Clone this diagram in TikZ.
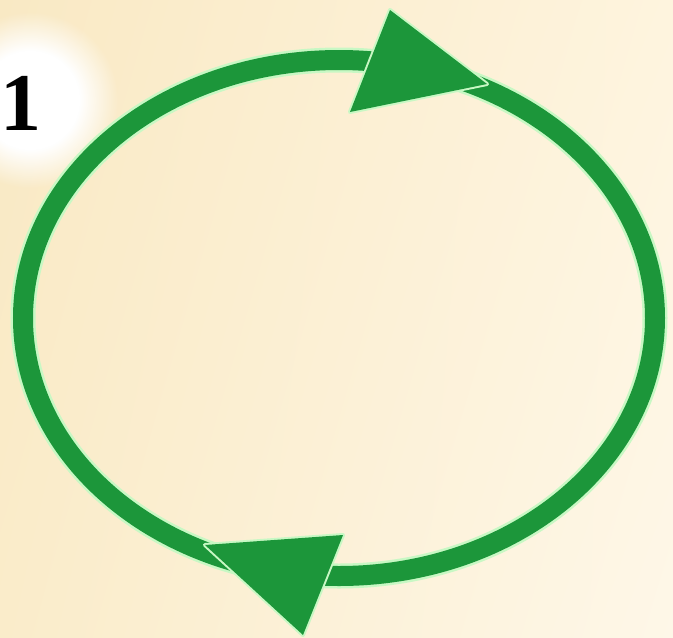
\documentclass[tikz,border=0pt]{standalone}
\usepackage{fontspec}
\setmainfont{Liberation Serif}
\usetikzlibrary{fadings,shadings}
\definecolor{ringgreen}{RGB}{28,150,58}
\definecolor{halogreen}{RGB}{200,248,196}
\definecolor{bgA}{RGB}{249,233,196}
\definecolor{bgB}{RGB}{254,244,222}
\definecolor{bgC}{RGB}{250,236,202}
\definecolor{bgD}{RGB}{254,247,232}
\pgfdeclareradialshading{glowshade}{\pgfpointorigin}{color(0bp)=(pgftransparent!0); color(14bp)=(pgftransparent!0); color(25bp)=(pgftransparent!100); color(50bp)=(pgftransparent!100)}
\pgfdeclarefading{glowfade}{\pgfuseshading{glowshade}}
\tikzset{
  ringhalo/.style={draw=halogreen, line width=25},
  ring/.style={draw=ringgreen, line width=20},
  headhalo/.style={draw=halogreen, line width=4, line join=round},
  head/.style={fill=ringgreen},
  labelnum/.style={font=\bfseries\fontsize{82}{82}\selectfont, inner sep=0, anchor=base}
}
\begin{document}
\begin{tikzpicture}[x=1pt,y=-1pt]
\useasboundingbox (0pt,0pt) rectangle (673pt,-638pt);
\shade[upper left=bgA, upper right=bgB, lower left=bgC, lower right=bgD] (0pt,0pt) rectangle (673pt,-638pt);
% glow behind the number
\fill[white, path fading=glowfade, fit fading=true] (30,100) circle (88);
\node[labelnum] (one) at (21,130) {1};
% ring
\draw[ringhalo] (339,318) ellipse [x radius=316, y radius=258];
\draw[ring] (339,318) ellipse [x radius=316, y radius=258];
% arrowheads
\coordinate (t1) at (390,10);
\coordinate (t2) at (487,84);
\coordinate (t3) at (350,112);
\coordinate (b1) at (343,535);
\coordinate (b2) at (303,635);
\coordinate (b3) at (205,545);
\draw[headhalo] (t1) -- (t2) -- (t3) -- cycle;
\fill[head] (t1) -- (t2) -- (t3) -- cycle;
\draw[headhalo] (b1) -- (b2) -- (b3) -- cycle;
\fill[head] (b1) -- (b2) -- (b3) -- cycle;
\end{tikzpicture}
\end{document}
